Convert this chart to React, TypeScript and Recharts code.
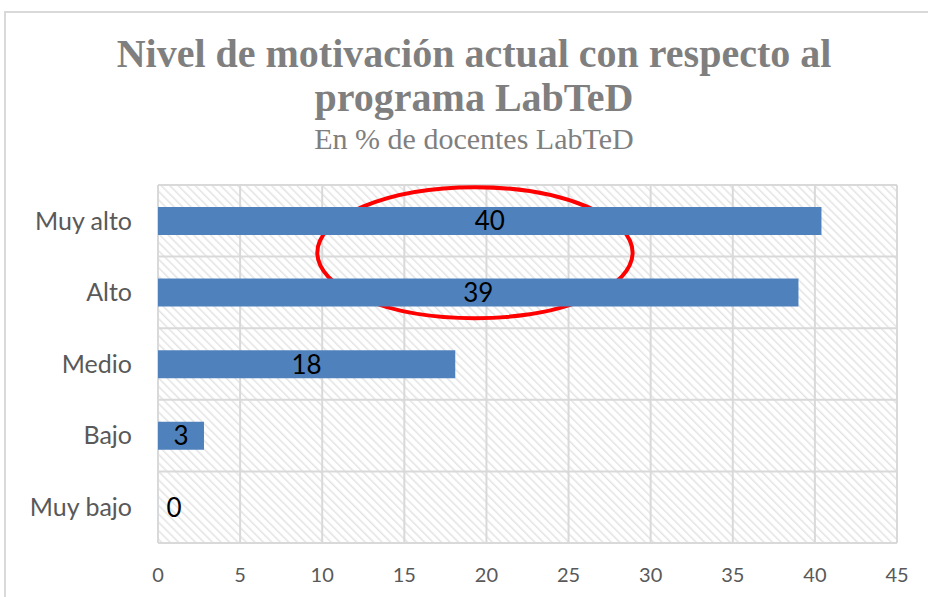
import { BarChart, Bar, XAxis, YAxis, CartesianGrid, LabelList, ReferenceArea } from 'recharts';

const categories = ['Muy alto', 'Alto', 'Medio', 'Bajo', 'Muy bajo'];
const percentages = [40.4, 39, 18.1, 2.8, 0];
const xTicks = [0, 5, 10, 15, 20, 25, 30, 35, 40, 45];

const data = categories.map((cat, i) => ({ cat, value: percentages[i] }));

const gray = '#7f7f7f';
const sans = 'Lato, "Open Sans", sans-serif';

const BarLabel = (props: any) => {
  const { x, y, width, height, value } = props;
  const cx = Math.max(x + width / 2, x + 16);
  return (
    <text x={cx} y={y + height / 2} dy="0.36em" textAnchor="middle" fill="#000" fontSize={26} fontFamily={sans}>
      {Math.round(value)}
    </text>
  );
};

// highlight ring, sized relative to the full plot height
const Ellipse = (props: any) => {
  const { x, y, width, height } = props;
  return (
    <ellipse
      cx={x + width / 2}
      cy={y + height * 0.189}
      rx={width / 2}
      ry={height * 0.183}
      fill="none"
      stroke="#ff0000"
      strokeWidth={4}
    />
  );
};

export default function App() {
  return (
    <div style={{ position: 'relative', width: 928, height: 597, overflow: 'hidden', background: '#fff' }}>
      <style>{'body{margin:0}'}</style>
      <div
        style={{
          position: 'absolute',
          left: 4,
          top: 11,
          width: 1000,
          height: 700,
          border: '2px solid #d9d9d9',
        }}
      />
      <div
        style={{
          position: 'absolute',
          left: 0,
          top: 32,
          width: 948,
          textAlign: 'center',
          fontFamily: '"Liberation Serif", serif',
          fontWeight: 'bold',
          fontSize: 40,
          lineHeight: '44px',
          color: gray,
        }}
      >
        Nivel de motivación actual con respecto al
        <br />
        programa LabTeD
      </div>
      <div
        style={{
          position: 'absolute',
          left: 0,
          top: 122,
          width: 948,
          textAlign: 'center',
          fontFamily: '"Liberation Serif", serif',
          fontSize: 30,
          color: gray,
        }}
      >
        En % de docentes LabTeD
      </div>
      <BarChart
        width={928}
        height={597}
        data={data}
        layout="vertical"
        margin={{ top: 185, right: 31, left: 0, bottom: 0 }}
        barSize={28}
        style={{ position: 'absolute', left: 0, top: 0 }}
      >
        <defs>
          <pattern id="hatch" width="6" height="6" patternUnits="userSpaceOnUse" patternTransform="rotate(-45)">
            <rect width="6" height="6" fill="#ffffff" />
            <line x1="0" y1="0" x2="0" y2="6" stroke="#e3e3e3" strokeWidth="3" />
          </pattern>
        </defs>
        <CartesianGrid
          fill="url(#hatch)"
          stroke="#d9d9d9"
          strokeWidth={2}
          horizontalCoordinatesGenerator={({ offset }: any) =>
            categories.map((_, i) => offset.top + (i * offset.height) / categories.length).concat(offset.top + offset.height)
          }
        />
        <XAxis
          type="number"
          domain={[0, 45]}
          ticks={xTicks}
          axisLine={false}
          tickLine={false}
          height={54}
          tickMargin={19}
          tick={{ fill: '#595959', fontSize: 20, fontFamily: sans }}
        />
        <YAxis
          type="category"
          dataKey="cat"
          width={158}
          axisLine={false}
          tickLine={false}
          tickMargin={20}
          tick={{ fill: '#595959', fontSize: 25, fontFamily: sans }}
        />
        <Bar
          dataKey="value"
          fill="#4f81bd"
          minPointSize={(v: number) => (v === 0 ? 0.01 : 0)}
          isAnimationActive={false}
        >
          <LabelList dataKey="value" content={BarLabel} />
        </Bar>
        <ReferenceArea x1={9.7} x2={28.9} ifOverflow="visible" shape={Ellipse} />
      </BarChart>
    </div>
  );
}
